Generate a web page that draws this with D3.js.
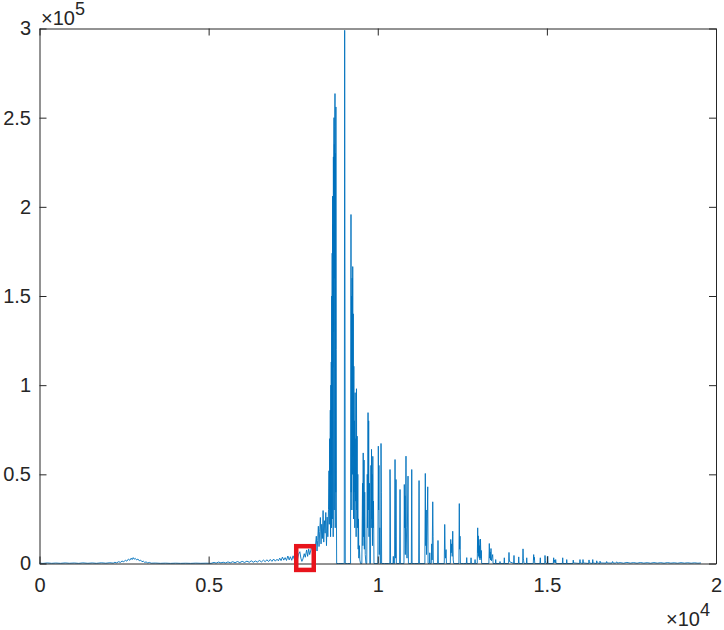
<!DOCTYPE html>
<html><head><meta charset="utf-8">
<script src="https://cdn.jsdelivr.net/npm/d3@7"></script>
<style>
html,body{margin:0;padding:0;background:#fff;}
svg{display:block;font-family:"Liberation Sans",Arial,sans-serif;}
</style>
</head><body>
<svg id="chart" width="724" height="630"></svg>
<script>
// ---- data ----
const freq = [
  0,100,230,360,480,620,760,880,1030,1160,1280,1430,1560,1680,1830,1960,2080,2180,
  2230,2280,2340,2390,2440,2490,2540,2580,2630,2670,2710,2740,2770,2800,2830,2870,2910,2950,2990,3030,3070,3110,3150,3200,3250,3300,
  3420,3570,3720,3870,4020,4170,4320,4470,4620,4770,4920,5070,
  5162,5222,5292,5362,5432,5502,5572,5642,5712,5782,5852,5922,5992,6062,6132,6202,6262,6322,6382,6442,6502,6562,6622,6672,6722,6772,6822,6872,6922,6972,7022,7062,7102,7142,7182,7222,7262,7302,7342,7382,
  7417,7457,7497,7537,7577,7617,7657,7697,7727,7757,7787,7827,7857,7897,7927,7957,7987,8017,8047,8077,8107,8137,8157,
  8184,8204,8224,8244,8264,8284,8304,8324,8344,8364,8384,8404,8424,8444,8464,8484,8504,8524,8544,
  8558,8568,8578,8588,8598,8605,8613,8620,8626,8633,8640,8646,8653,8659,8665,8671,8677,8683,8689,8695,8701,8707,8713,8719,8725,8731,8736,8743,8750,8757,8763,8771,8778,8785,
  8832,8912,8990,9010,9022,9030,9040,9110,9187,
  9196,9209,9217,9226,9234,9243,9251,9260,9268,9276,9284,9293,9301,9311,9321,9331,9341,9351,9361,9371,9381,9391,9401,9411,9421,9431,9441,9456,9471,9491,
  9530,9550,9560,9570,9580,9595,9605,9615,9630,9650,
  9675,9690,9700,9713,9722,9732,9742,9755,9765,
  9784,9799,9807,9816,9824,9834,9844,9854,9864,9874,9889,
  10003,10017,10026,10036,10045,10058,10073,10088,10097,10106,10115,
  10197,10327,10357,10363,10372,10379,10452,10460,10469,10497,10511,10519,10529,10540,10550,10647,10659,10669,
  10775,10785,10795,10805,10815,10835,10845,10865,10895,10907,10993,11005,11015,11095,11210,11221,11231,
  11393,11406,11418,11433,11443,11463,11478,11488,11528,11538,11548,11583,11596,11608,11626,11636,11643,
  11771,11781,11791,11966,11980,11991,12003,12019,12031,12146,12158,12171,12186,12201,12217,12231,12246,
  12399,12411,12421,12433,12444,12539,12619,12631,12639,12749,12758,12769,12869,12877,12885,
  12942,12955,12963,12972,12982,12993,13003,13012,13022,13037,13049,13061,13072,
  13285,13298,13310,13325,13335,13348,13360,13375,13398,13410,13480,13487,13495,13605,13615,13625,13733,13742,13750,
  13868,13880,13888,13898,14018,14028,14038,14158,14168,14178,14283,14295,14303,14313,14325,14395,14405,14413,
  14598,14610,14620,14630,14642,14795,14806,14815,14935,14945,14955,14970,15015,15025,15035,
  15190,15201,15211,15228,15248,15261,15273,15458,15468,15478,15578,15587,15596,
  15770,15780,15790,15970,15979,15987,16060,16068,16077,16237,16246,16255,16347,16356,16365,16465,16474,16483,16565,16572,16580,
  16752,16767,16782,16922,16942,16957,17022,17072,17087,
  17165,17265,17365,17465,17565,17665,17765,17865,17965,18065,18165,18265,18365,18465,18565,18665,18765,18865,18965,19065,19165,19265,19365,19465,19555
];
const amp = [
  200,60,300,90,250,80,320,120,280,70,350,110,300,90,380,150,420,200,
  700,350,1000,600,1400,900,1900,1300,2500,1800,3000,2200,3300,2400,2900,2000,2500,1500,1900,1000,1300,600,900,300,600,150,
  250,80,200,60,180,70,150,60,200,90,170,80,
  600,200,800,350,700,300,900,400,1000,450,1100,500,1200,600,1300,700,1500,700,1400,800,1700,900,1900,1000,2100,1100,2300,1200,2500,1300,2400,1500,3000,1600,3600,1900,3300,1700,4200,2000,
  3800,1800,4300,2200,3500,1500,5200,6600,3000,1200,2500,5500,3500,7600,4000,8200,5000,7000,10000,6000,8500,4500,9500,
  15300,7000,13000,20900,9500,18000,25800,11000,22000,14000,29700,12000,24000,17000,28600,10000,26000,15000,30300,
  52000,22000,70000,30000,86000,15000,100000,50000,113000,20000,150000,70000,174000,25000,206000,110000,190000,15000,228000,130000,215000,250000,30000,235000,160000,245000,263500,20000,230000,40000,256000,120000,30000,0,
  0,0,0,0,299000,164000,0,0,0,
  0,195700,40000,150000,30000,160000,50000,166500,60000,140000,25000,110600,40000,80000,20000,95800,35000,70000,15000,98000,30000,71400,20000,50000,8000,25000,3000,10000,2000,0,
  0,45000,10000,62000,15000,58000,8000,40000,5000,0,
  0,50000,20000,84600,30000,80000,15000,45000,0,
  0,55000,20000,64000,25000,50000,10000,60100,20000,35000,0,
  0,65800,30000,55000,5000,20000,0,0,67300,40000,0,
  0,0,0,52700,30000,0,0,4000,0,0,58300,15000,3000,47100,0,0,41500,0,
  0,44300,20000,38000,5000,60200,20000,3000,49000,0,0,52700,0,0,0,46500,0,
  0,50500,10000,30000,5000,25000,43000,0,0,6000,0,0,11000,2000,34600,15000,0,
  0,12900,0,0,21900,8000,3000,7800,0,0,13500,6000,11000,4000,18100,2000,0,
  0,33600,8000,15300,0,0,0,3300,0,0,3200,0,0,2200,0,
  0,20000,6000,15500,4000,13500,3000,10000,2000,13700,3000,7300,0,
  0,11200,3000,6500,2000,8400,1500,3000,5000,0,0,2200,0,0,1100,0,0,3200,0,
  0,6200,2500,1000,0,4500,0,0,3700,0,0,8200,3000,1500,0,0,3200,0,
  0,5000,2000,3500,0,0,3200,0,0,4500,1500,0,0,4100,0,
  0,3200,500,2000,300,2200,0,0,3200,0,0,2200,0,
  0,1900,300,0,2200,300,0,2200,300,0,2000,300,0,2200,300,0,1500,400,0,1300,300,
  200,1100,300,200,1100,300,200,900,200,
  500,150,600,200,500,150,550,200,450,150,500,200,450,150,500,200,400,150,450,200,400,150,380,150,300
];
const xTickValues = [0, 5000, 10000, 15000, 20000];
const xTickLabels = ["0", "0.5", "1", "1.5", "2"];
const yTickValues = [0, 50000, 100000, 150000, 200000, 250000, 300000];
const yTickLabels = ["0", "0.5", "1", "1.5", "2", "2.5", "3"];
const xExponent = "4";
const yExponent = "5";
const markFreq = [7590, 8108];
const markAmp = [-3600, 9700];

// ---- drawing ----
if (freq.length !== amp.length) console.error("length mismatch", freq.length, amp.length);
const svg = d3.select("#chart");
const x = d3.scaleLinear().domain([0, 20000]).range([39.5, 716]);
const y = d3.scaleLinear().domain([0, 300000]).range([563.5, 28.5]);
const axisColor = "#262626";
const fontSize = 20;

function styleAxis(g) {
  g.select(".domain").attr("stroke", axisColor).attr("stroke-width", 1);
  g.selectAll(".tick line").attr("stroke", axisColor).attr("stroke-width", 1);
  g.selectAll(".tick text").attr("fill", axisColor).attr("font-size", fontSize)
    .attr("font-family", '"Liberation Sans", Arial, sans-serif');
}

// data line
const pts = freq.map((f, i) => [f, amp[i]]);
const line = d3.line().x(d => x(d[0])).y(d => y(d[1]));
svg.append("path").datum(pts)
  .attr("d", line).attr("fill", "none")
  .attr("stroke", "#0072BD").attr("stroke-width", 0.9)
  .attr("stroke-linejoin", "miter");

// axes
const gx = svg.append("g").attr("transform", `translate(0,${y(0)})`)
  .call(d3.axisBottom(x).tickValues(xTickValues).tickFormat((d, i) => xTickLabels[i])
    .tickSizeInner(-7).tickSizeOuter(0).tickPadding(14));
styleAxis(gx);
const gxt = svg.append("g").attr("transform", `translate(0,${y(300000)})`)
  .call(d3.axisTop(x).tickValues(xTickValues).tickFormat("").tickSizeInner(-7).tickSizeOuter(0));
styleAxis(gxt);
const gy = svg.append("g").attr("transform", `translate(${x(0)},0)`)
  .call(d3.axisLeft(y).tickValues(yTickValues).tickFormat((d, i) => yTickLabels[i])
    .tickSizeInner(-7).tickSizeOuter(0).tickPadding(8.5));
styleAxis(gy);
const gyr = svg.append("g").attr("transform", `translate(${x(20000)},0)`)
  .call(d3.axisRight(y).tickValues(yTickValues).tickFormat("").tickSizeInner(-7).tickSizeOuter(0));
styleAxis(gyr);

// exponent labels
const ty = svg.append("text").attr("x", 41).attr("y", 25).attr("font-size", fontSize).attr("fill", axisColor);
ty.append("tspan").text("×10");
ty.append("tspan").attr("dy", -10).attr("font-size", fontSize * 0.9).text(yExponent);
const tx = svg.append("text").attr("x", 666).attr("y", 626).attr("font-size", fontSize).attr("fill", axisColor);
tx.append("tspan").text("×10");
tx.append("tspan").attr("dy", -10).attr("font-size", fontSize * 0.9).text(xExponent);

// highlight box
svg.append("rect")
  .attr("x", x(markFreq[0])).attr("y", y(markAmp[1]))
  .attr("width", x(markFreq[1]) - x(markFreq[0]))
  .attr("height", y(markAmp[0]) - y(markAmp[1]))
  .attr("fill", "none").attr("stroke", "#E8141C").attr("stroke-width", 4.5);
</script>
</body></html>
